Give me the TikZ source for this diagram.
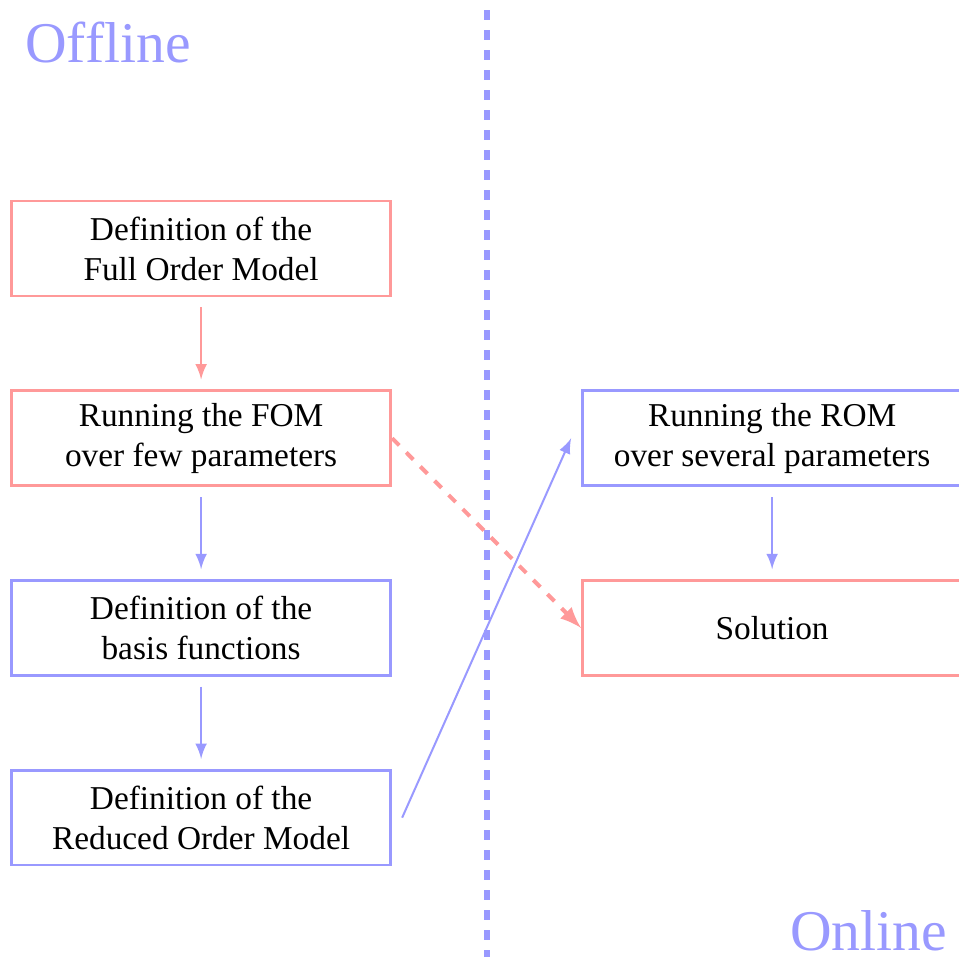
\documentclass[tikz,border=0pt]{standalone}
\usepackage{fontspec}
\setmainfont{Liberation Serif}
\usetikzlibrary{positioning}
\usetikzlibrary{arrows}

\tikzset{
	stagebox/.style={draw, thick, align=center, minimum width=4cm, minimum height=1cm},
	offstage/.style={stagebox, draw=red!40},
	onstage/.style={stagebox, draw=blue!40},
	redflow/.style={semithick, red!40, -latex, shorten >=3pt, shorten <=3pt},
	blueflow/.style={semithick, blue!40, -latex, shorten >=3pt, shorten <=3pt}
}

\begin{document}
\begin{tikzpicture}[node distance=2cm, on grid]
	% page frame 10.11cm x 10.09cm
	\useasboundingbox (0, 0) rectangle (10.11, -10.09);
	% offline / online split
	\draw[line width=1.6pt, blue!40, dash pattern=on 3pt off 3pt, dash phase=3pt] (5.135, 0) -- (5.135, -10.09);
	\node[blue!40, font=\LARGE, anchor=base west, inner sep=0pt] (offline) at (0.26, -0.66) {Offline};
	\node[blue!40, font=\LARGE, anchor=base east, inner sep=0pt] (online) at (9.99, -10.02) {Online};
	% offline stages
	\node[offstage] (fom) at (2.12, -2.62) {Definition of the\\Full Order Model};
	\node[offstage, below=of fom] (runfom) {Running the FOM\\over few parameters};
	\node[onstage, below=of runfom] (basis) {Definition of the\\basis functions};
	\node[onstage, below=of basis] (rom) {Definition of the\\Reduced Order Model};
	% online stages
	\node[onstage] (runrom) at (8.14, -4.62) {Running the ROM\\over several parameters};
	\node[offstage, below=of runrom] (solution) {Solution};
	% arrows
	\draw[redflow] (fom) -- (runfom);
	\draw[blueflow] (runfom) -- (basis);
	\draw[blueflow] (basis) -- (rom);
	\draw[semithick, blue!40, -latex] ([xshift=3pt]rom.east) -- ([xshift=-3pt]runrom.west);
	\draw[blueflow] (runrom) -- (solution);
	\draw[very thick, red!40, dashed, -latex] (runfom.east) -- (solution.west);
\end{tikzpicture}
\end{document}
